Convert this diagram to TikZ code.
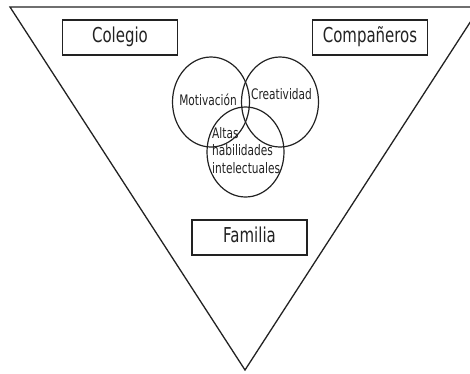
\documentclass[tikz,border=0pt]{standalone}
\usepackage{fontspec}
\setmainfont{DejaVu Sans}[FakeStretch=0.73]
\usetikzlibrary{shapes.geometric}
\definecolor{ink}{HTML}{222222}
\tikzset{
  frame/.style={draw=ink, line width=1.3pt},
  labelbox/.style={draw=ink, line width=1.3pt, rectangle, minimum width=115pt, minimum height=35pt,
    inner sep=0pt, text=ink, text height=15pt, text depth=5pt, font=\fontsize{20.5}{24}\selectfont},
  circ/.style={draw=ink, line width=1.2pt, ellipse, minimum width=77pt, minimum height=90pt, inner sep=0pt},
  smalltext/.style={text=ink, inner sep=0pt, font=\fontsize{14.5}{17.5}\selectfont}
}
\begin{document}
\begin{tikzpicture}[x=1pt,y=-1pt]
\useasboundingbox (0,0) rectangle (470,373);
\clip (0,0) rectangle (470,373);
% big inverted triangle
\draw[frame, line join=miter] (10,7) -- (480,7) -- (245,370) -- cycle;
% boxes
\node[labelbox] (colegio) at (120,37.5) {Colegio};
\node[labelbox] (comp) at (370,37.5) {Compañeros};
\node[labelbox] (familia) at (249.5,237.5) {Familia};
% ellipses
\node[circ] (mot) at (211,102) {};
\node[circ] (cre) at (280,102) {};
\node[circ] (alt) at (245.5,152) {};
% texts
\node[smalltext] (mott) at (208,100) {Motivación};
\node[smalltext] (cret) at (281.5,94) {Creatividad};
\node[smalltext, align=left, anchor=north west] (altt) at (212,127) {Altas\\habilidades\\intelectuales};
\end{tikzpicture}
\end{document}
